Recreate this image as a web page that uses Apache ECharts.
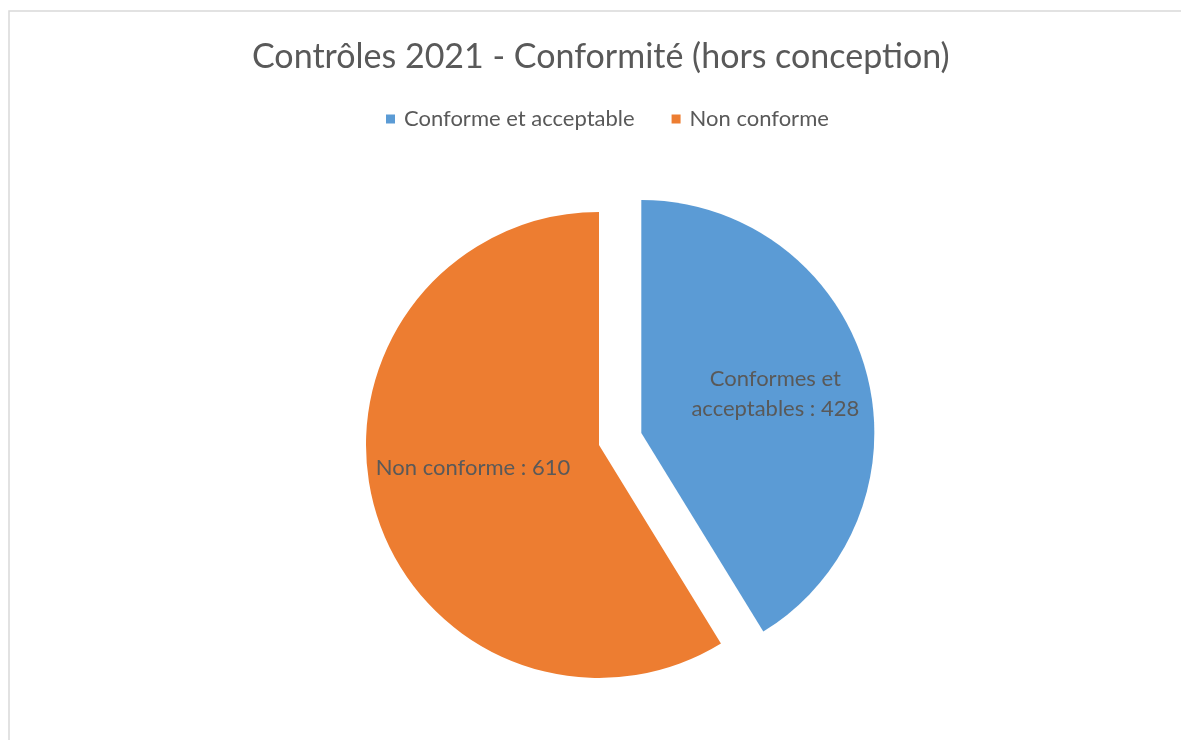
<!DOCTYPE html>
<html>
<head>
<meta charset="utf-8">
<script src="https://cdn.jsdelivr.net/npm/echarts@6/dist/echarts.min.js"></script>
<style>
html,body{margin:0;padding:0;background:#fff;}
#chart{width:1181px;height:740px;}
</style>
</head>
<body>
<div id="chart"></div>
<script>
const titleText = "Contrôles 2021 - Conformité (hors conception)";
const categories = ["Conforme et acceptable", "Non conforme"];
const labelNames = ["Conformes et\nacceptables", "Non conforme"];
const values = [428, 610];
const colors = ["#5B9BD5", "#ED7D31"];

const FONT = "Lato";
const chart = echarts.init(document.getElementById('chart'), null, {renderer: 'canvas'});

const labelOffsets = [[40, -15], [-11, -10]];
const labelShift = [[19, -7], [0, 0]];

const option = {
  backgroundColor: '#ffffff',
  animation: false,
  graphic: [{
    type: 'rect',
    shape: {x: 9, y: 11, width: 1200, height: 800},
    style: {fill: 'none', stroke: '#d9d9d9', lineWidth: 1.5},
    silent: true, z: -1
  }],
  title: {
    text: titleText,
    left: 247,
    top: 35,
    textStyle: {fontFamily: FONT, fontSize: 34, fontWeight: 'normal', color: '#595959'}
  },
  legend: {
    data: categories,
    top: 103,
    left: 381,
    icon: 'rect',
    itemWidth: 9,
    itemHeight: 9,
    itemGap: 37,
    textStyle: {fontFamily: FONT, fontSize: 22, color: '#595959', padding: [0, 0, 0, 4]}
  },
  series: [{
    type: 'pie',
    center: [599, 445],
    radius: 233,
    startAngle: 90,
    clockwise: true,
    selectedMode: 'single',
    selectedOffset: 44,
    avoidLabelOverlap: false,
    emphasis: {disabled: true},
    itemStyle: {borderWidth: 0},
    label: {
      show: true,
      position: 'inside',
      fontFamily: FONT,
      fontSize: 22,
      color: '#595959',
      lineHeight: 30,
      align: 'center'
    },
    labelLine: {show: false},
    labelLayout: function (params) {
      const s = labelShift[params.dataIndex];
      return {dx: s[0], dy: s[1]};
    },
    data: categories.map((c, i) => ({
      name: c,
      value: values[i],
      selected: i === 0,
      itemStyle: {color: colors[i]},
      label: {
        formatter: labelNames[i] + ' : ' + values[i],
        offset: labelOffsets[i]
      }
    }))
  }]
};
chart.setOption(option);
</script>
</body>
</html>
